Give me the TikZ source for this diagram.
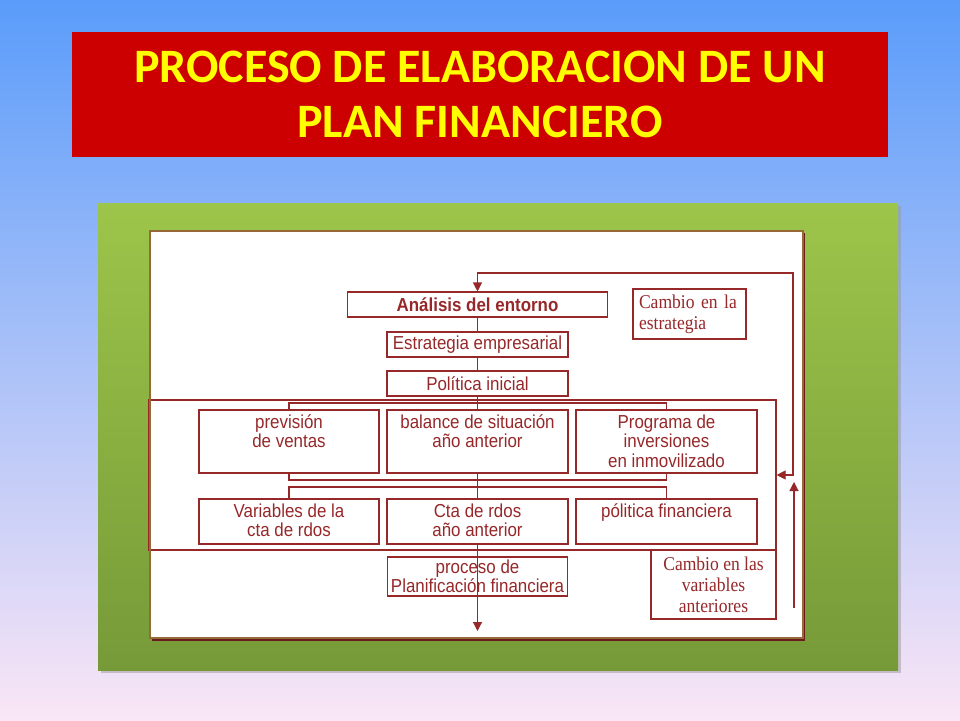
\documentclass[tikz,border=0pt]{standalone}
\usepackage{fontspec}
\setmainfont{Liberation Sans}
\newfontfamily\boxface[FakeStretch=0.9]{Liberation Sans}
\newfontfamily\noteface[FakeStretch=0.9]{Liberation Serif}
\newfontfamily\titleface{Carlito}
\usepackage{xcolor}
\usetikzlibrary{arrows.meta}
\definecolor{SkyTop}{RGB}{90,156,250}
\definecolor{SkyMid}{RGB}{150,196,250}
\definecolor{SkyBottom}{RGB}{250,230,246}
\definecolor{TitleRed}{RGB}{204,0,0}
\definecolor{TitleYellow}{RGB}{255,255,0}
\definecolor{PanelTop}{RGB}{157,197,74}
\definecolor{PanelBottom}{RGB}{118,154,56}
\definecolor{SheetEdge}{RGB}{150,105,55}
\definecolor{DiagRed}{RGB}{150,40,42}
\tikzstyle{titleBlock}=[fill=TitleRed,minimum width=816pt,minimum height=125pt,text=TitleYellow,align=center,font=\titleface\bfseries\fontsize{48}{55}\selectfont]
\tikzstyle{flowBlock}=[draw=DiagRed,line width=1.1pt,inner sep=1pt,text=DiagRed,font=\boxface\fontsize{18.8}{19.5}\selectfont]
\tikzstyle{noteBlock}=[flowBlock,font=\noteface\fontsize{19.5}{21}\selectfont]
\tikzstyle{flowLine}=[draw=DiagRed,line width=1.1pt]
\tikzset{flowTip/.tip={Triangle[length=9pt,width=9pt]}}
\tikzstyle{flowArrow}=[flowLine,-flowTip]
\newcommand{\topText}[3]{\parbox[c][#2pt][t]{#1pt}{\centering\rule{0pt}{18pt}#3}}

\begin{document}
\begin{tikzpicture}[x=1pt,y=-1pt]
    % Slide background
    \useasboundingbox (0,0) rectangle (960,720);
    \shade[top color=SkyTop,middle color=SkyMid,bottom color=SkyBottom] (0,0) rectangle (960,720);

    % Title
    \node[titleBlock] (title) at (480,94.5) {PROCESO DE ELABORACION DE UN\\PLAN FINANCIERO};

    % Green panel and picture sheet
    \fill[black!40,opacity=0.5] (101,206) rectangle (901,673);
    \shade[top color=PanelTop,bottom color=PanelBottom] (98,203) rectangle (898,670);
    \fill[DiagRed!70!black] (152,233) rectangle (805,641);
    \fill[white] (150,231) rectangle (803,638);

    % First stage
    \node[flowBlock,minimum width=260pt,minimum height=25pt,font=\boxface\fontsize{18.8}{19.5}\selectfont\bfseries] (analisis) at (477.5,304.5) {Análisis del entorno};
    \node[flowBlock,minimum width=181pt,minimum height=25pt] (estrategia) at (477.5,344.5) {Estrategia empresarial};
    \node[flowBlock,minimum width=181pt,minimum height=25pt] (politica) at (477.5,383.5) {Política inicial};
    \node[noteBlock,minimum width=113pt,minimum height=50pt,text width=101pt,align=left] (cambioEstrategia) at (689.5,314) {Cambio en la\\estrategia};
    \draw[flowLine] (analisis) -- (estrategia);
    \draw[flowLine] (estrategia) -- (politica);

    % Second stage
    \node[flowBlock,draw,minimum width=627pt,minimum height=150pt,inner sep=0pt] (stage) at (462.5,475) {};
    \node[flowBlock,inner sep=0pt] (prevision) at (289,441.5) {\topText{180}{63}{previsión\\de ventas}};
    \node[flowBlock,inner sep=0pt] (balance) at (477.5,441.5) {\topText{181}{63}{balance de situación\\año anterior}};
    \node[flowBlock,inner sep=0pt] (programa) at (666.5,441.5) {\topText{181}{63}{Programa de\\inversiones\\en inmovilizado}};
    \node[flowBlock,inner sep=0pt] (variables) at (289,521.5) {\topText{180}{45}{Variables de la\\cta de rdos}};
    \node[flowBlock,inner sep=0pt] (ctaRdos) at (477.5,521.5) {\topText{181}{45}{Cta de rdos\\año anterior}};
    \node[flowBlock,inner sep=0pt] (politicaFin) at (666.5,521.5) {\topText{181}{45}{pólitica financiera}};

    \draw[flowLine] (politica) -- (balance);
    \coordinate (splitTop) at (477.5,403);
    \draw[flowLine] (prevision.north) |- (splitTop) -| (programa.north);
    \coordinate (joinMid) at (477.5,480);
    \draw[flowLine] (prevision.south) |- (joinMid) -| (programa.south);
    \draw[flowLine] (balance) -- (ctaRdos);
    \coordinate (splitLow) at (477.5,487);
    \draw[flowLine] (variables.north) |- (splitLow) -| (politicaFin.north);

    % Third stage
    \node[flowBlock,minimum width=180pt,minimum height=39pt,align=center] (proceso) at (477.5,576.5) {proceso de\\Planificación financiera};
    \node[noteBlock,minimum width=125pt,minimum height=69pt,align=center] (cambioVariables) at (713.5,584.5) {Cambio en las\\variables\\anteriores};
    \coordinate (planOut) at (477.5,631);
    \draw[flowArrow] (ctaRdos) -- (planOut);

    % Feedback
    \coordinate (loopCorner) at (793,475);
    \coordinate (loopTop) at (793,273);
    \draw[flowLine,flowTip-flowTip] (stage.east |- loopCorner) -- (loopCorner) -- (loopTop) -| (analisis.north);
    \coordinate (riseFoot) at (794,608);
    \coordinate (riseHead) at (794,482);
    \draw[flowArrow] (riseFoot) -- (riseHead);

    % Sheet edge
    \draw[SheetEdge,line width=1.5pt] (150,231) rectangle (803,638);
\end{tikzpicture}
\end{document}
